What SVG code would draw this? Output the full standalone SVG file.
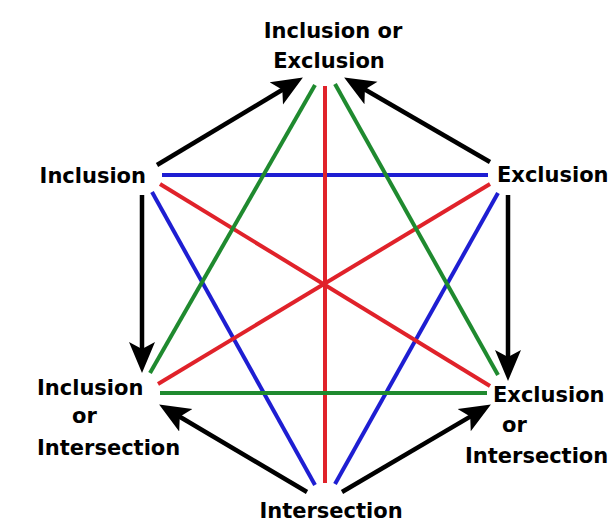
<svg xmlns="http://www.w3.org/2000/svg" width="612" height="525" viewBox="0 0 612 525">
  <style>
    .lbl { font-family: "DejaVu Sans", "Liberation Sans", sans-serif; font-weight: bold; font-size: 21px; fill: #000; }
    .blue { stroke: #1e1ed2; stroke-width: 4; fill: none; }
    .red { stroke: #e0222a; stroke-width: 4; fill: none; }
    .green { stroke: #1f8a2f; stroke-width: 4; fill: none; }
    .arrow { stroke: #000; stroke-width: 4.5; fill: none; marker-end: url(#ah); }
  </style>
  <defs>
    <marker id="ah" markerUnits="userSpaceOnUse" markerWidth="34" markerHeight="30" viewBox="0 -14 34 28" refX="10" refY="0" orient="auto">
      <path d="M0,-13 L31,0 L0,13 L7,0 z" fill="#000"/>
    </marker>
  </defs>
  <rect width="612" height="525" fill="#ffffff"/>

  <g id="connectors">
    <!-- blue -->
    <line class="blue" x1="162" y1="175" x2="488" y2="175"/>
    <line class="blue" x1="152" y1="192" x2="315" y2="485"/>
    <line class="blue" x1="498" y1="193" x2="335" y2="484"/>
    <!-- red -->
    <line class="red" x1="325" y1="86" x2="325" y2="483"/>
    <line class="red" x1="160" y1="184" x2="490" y2="386"/>
    <line class="red" x1="490" y1="184" x2="158" y2="384"/>
    <!-- green -->
    <line class="green" x1="315" y1="85" x2="150" y2="373"/>
    <line class="green" x1="335" y1="84" x2="498" y2="375"/>
    <line class="green" x1="160" y1="393" x2="487" y2="393"/>
    <!-- black arrows -->
    <line class="arrow" x1="157" y1="165" x2="284.9" y2="88.3"/>
    <line class="arrow" x1="490" y1="162" x2="362.3" y2="88"/>
    <line class="arrow" x1="142" y1="195" x2="142" y2="352"/>
    <line class="arrow" x1="508" y1="195" x2="508" y2="360"/>
    <line class="arrow" x1="307" y1="492" x2="177.2" y2="415.2"/>
    <line class="arrow" x1="342" y1="492" x2="472.8" y2="415.1"/>
  </g>

  <g id="node-top">
    <text class="lbl" x="333" y="38" text-anchor="middle">Inclusion or</text>
    <text class="lbl" x="329" y="68" text-anchor="middle">Exclusion</text>
  </g>
  <g id="node-inclusion">
    <text class="lbl" x="146" y="183" text-anchor="end">Inclusion</text>
  </g>
  <g id="node-exclusion">
    <text class="lbl" x="497" y="182">Exclusion</text>
  </g>
  <g id="node-inclusion-or-intersection">
    <text class="lbl" x="37" y="395">Inclusion</text>
    <text class="lbl" x="72" y="423">or</text>
    <text class="lbl" x="37" y="455">Intersection</text>
  </g>
  <g id="node-exclusion-or-intersection">
    <text class="lbl" x="493" y="402">Exclusion</text>
    <text class="lbl" x="502" y="432">or</text>
    <text class="lbl" x="465" y="463">Intersection</text>
  </g>
  <g id="node-intersection">
    <text class="lbl" x="331" y="518" text-anchor="middle">Intersection</text>
  </g>
</svg>
